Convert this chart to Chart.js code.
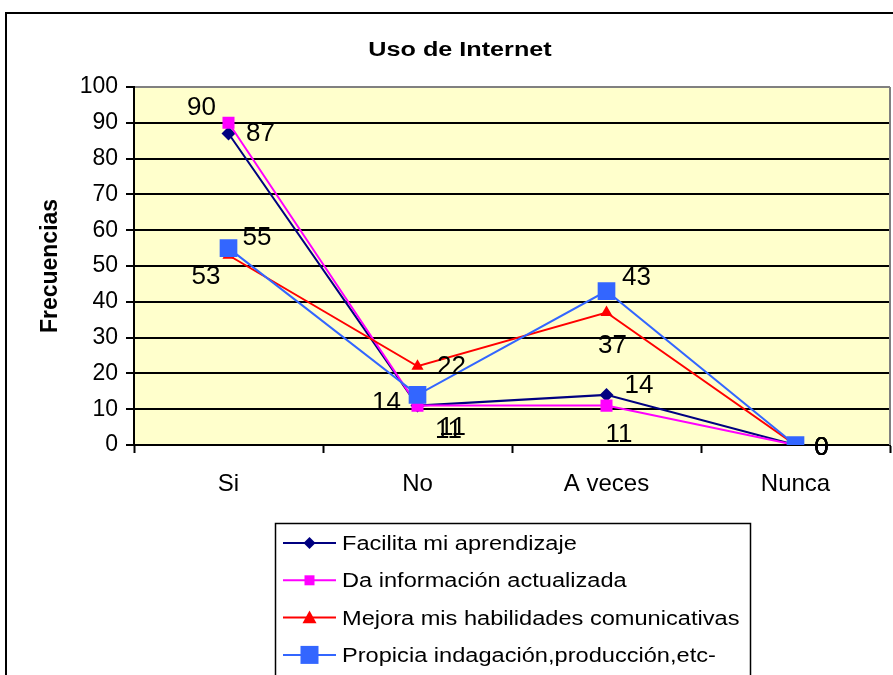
<!DOCTYPE html>
<html>
<head>
<meta charset="utf-8">
<script src="https://cdn.jsdelivr.net/npm/chart.js@4.4.0/dist/chart.umd.min.js"></script>
<style>
  html, body { margin: 0; padding: 0; background: #fff; }
  #wrap { width: 893px; height: 675px; position: relative; }
</style>
</head>
<body>
<div id="wrap"><canvas id="chart" width="893" height="675"></canvas></div>
<script>
const categories = ["Si", "No", "A veces", "Nunca"];
const seriesNames = [
  "Facilita mi aprendizaje",
  "Da información actualizada",
  "Mejora mis habilidades comunicativas",
  "Propicia indagación,producción,etc-",
];
const facilita = [87, 11, 14, 0];
const daInfo = [90, 11, 11, 0];
const mejora = [53, 22, 37, 0];
const propicia = [55, 14, 43, 0];
const yMin = 0;
const yMax = 100;
const yStep = 10;

const colors = ["#000080", "#FF00FF", "#FF0000", "#3366FF"];
const font = "Arial, 'Liberation Sans', sans-serif";

// where each value label sits relative to its point (px)
const labelOffsets = [
  [[32, 0], [35, 22], [32.5, -9.5], [26, 2.5]],
  [[-27, -15], [31, 25], [12.5, 29.5], [26, 2.5]],
  [[-22.5, 22], [34, 1], [6, 33], [26, 2.5]],
  [[28.5, -10.5], [-31, 8], [30, -13], [26, 2.5]],
];

function drawText(ctx, text, x, y, size, sx, bold, align) {
  ctx.save();
  ctx.translate(x, y);
  ctx.scale(sx, 1);
  ctx.font = (bold ? "bold " : "") + size + "px " + font;
  ctx.fillStyle = "#000";
  ctx.textAlign = align || "left";
  ctx.textBaseline = "alphabetic";
  ctx.fillText(text, 0, 0);
  ctx.restore();
}

function drawMarker(ctx, kind, x, y, r, color) {
  ctx.save();
  ctx.fillStyle = color;
  ctx.beginPath();
  if (kind === "diamond") {
    ctx.moveTo(x, y - r);
    ctx.lineTo(x + r, y);
    ctx.lineTo(x, y + r);
    ctx.lineTo(x - r, y);
  } else if (kind === "triangle") {
    ctx.moveTo(x, y - r);
    ctx.lineTo(x + r, y + r * 0.8);
    ctx.lineTo(x - r, y + r * 0.8);
  } else {
    ctx.rect(x - r, y - r, 2 * r, 2 * r);
  }
  ctx.closePath();
  ctx.fill();
  ctx.restore();
}

const excelLook = {
  id: "excelLook",
  beforeDraw(chart) {
    const { ctx, chartArea: a } = chart;
    ctx.save();
    ctx.fillStyle = "#fff";
    ctx.fillRect(0, 0, chart.width, chart.height);
    ctx.strokeStyle = "#000";
    ctx.lineWidth = 2;
    ctx.strokeRect(6, 13, chart.width + 20, chart.height + 20);
    ctx.fillStyle = "#FFFFCC";
    ctx.fillRect(a.left, a.top, a.right - a.left, a.bottom - a.top);
    ctx.restore();
  },
  afterDatasetsDraw(chart) {
    const { ctx, chartArea: a } = chart;
    ctx.save();
    ctx.strokeStyle = "#808080";
    ctx.lineWidth = 2;
    ctx.beginPath();
    ctx.moveTo(a.right, a.top);
    ctx.lineTo(a.right, a.bottom);
    ctx.stroke();

    // value labels
    ctx.fillStyle = "#000";
    ctx.font = "26px " + font;
    ctx.textAlign = "center";
    ctx.textBaseline = "middle";
    chart.data.datasets.forEach((ds, i) => {
      chart.getDatasetMeta(i).data.forEach((pt, j) => {
        const off = labelOffsets[i][j];
        ctx.fillText(String(ds.data[j]), pt.x + off[0], pt.y + off[1]);
      });
    });
    ctx.restore();
  },
  afterDraw(chart) {
    const { ctx } = chart;
    drawText(ctx, "Uso de Internet", 460, 56, 20, 1.26, true, "center");

    // legend box
    ctx.save();
    ctx.strokeStyle = "#000";
    ctx.lineWidth = 1.5;
    ctx.strokeRect(275.5, 523.5, 475, 200);
    ctx.restore();

    const kinds = ["diamond", "square", "triangle", "square"];
    const sizes = [6, 5, 7, 9];
    seriesNames.forEach((name, i) => {
      const y = 543 + i * 37.3;
      ctx.save();
      ctx.strokeStyle = colors[i];
      ctx.lineWidth = 2;
      ctx.beginPath();
      ctx.moveTo(283, y);
      ctx.lineTo(336, y);
      ctx.stroke();
      ctx.restore();
      drawMarker(ctx, kinds[i], 309.5, y, sizes[i], colors[i]);
      drawText(ctx, name, 342, y + 7, 20, 1.18, false, "left");
    });
  },
};

const datasets = [
  { label: seriesNames[0], data: facilita, pointStyle: "rectRot", pointRadius: 7, order: 4 },
  { label: seriesNames[1], data: daInfo, pointStyle: "rect", pointRadius: 8.5, order: 3 },
  { label: seriesNames[2], data: mejora, pointStyle: "triangle", pointRadius: 7, order: 2 },
  { label: seriesNames[3], data: propicia, pointStyle: "rect", pointRadius: 12.5, order: 1 },
].map((d, i) => ({
  ...d,
  borderColor: colors[i],
  backgroundColor: colors[i],
  pointBackgroundColor: colors[i],
  pointBorderColor: colors[i],
  pointBorderWidth: 0,
  pointHoverRadius: d.pointRadius,
  borderWidth: 2,
  tension: 0,
}));

new Chart(document.getElementById("chart"), {
  type: "line",
  data: { labels: categories, datasets },
  plugins: [excelLook],
  options: {
    responsive: false,
    animation: false,
    layout: { autoPadding: false, padding: { top: 87, right: 3, bottom: 0, left: 0 } },
    plugins: {
      legend: { display: false },
      title: { display: false },
      tooltip: { enabled: false },
    },
    scales: {
      x: {
        offset: true,
        grid: {
          offset: true,
          drawOnChartArea: false,
          drawTicks: true,
          tickLength: 8,
          tickColor: "#000",
          tickWidth: 2,
        },
        border: { color: "#000", width: 2 },
        ticks: { color: "#000", font: { family: font, size: 24 }, padding: 17 },
        afterFit: (scale) => {
          scale.height = 230;
        },
      },
      y: {
        min: yMin,
        max: yMax,
        grid: {
          color: (c) => (c.tick && c.tick.value === yMax ? "#808080" : "#000"),
          lineWidth: 2,
          tickLength: 8,
          tickColor: "#000",
          tickWidth: 2,
        },
        border: { color: "#000", width: 2 },
        ticks: {
          stepSize: yStep,
          color: "#000",
          font: { family: font, size: 23 },
          padding: 8,
        },
        title: {
          display: true,
          text: "Frecuencias",
          color: "#000",
          font: { family: font, size: 23, weight: "bold" },
          padding: { top: 37, bottom: 0 },
        },
        afterFit: (scale) => {
          scale.width = 134;
        },
      },
    },
  },
});
</script>
</body>
</html>
